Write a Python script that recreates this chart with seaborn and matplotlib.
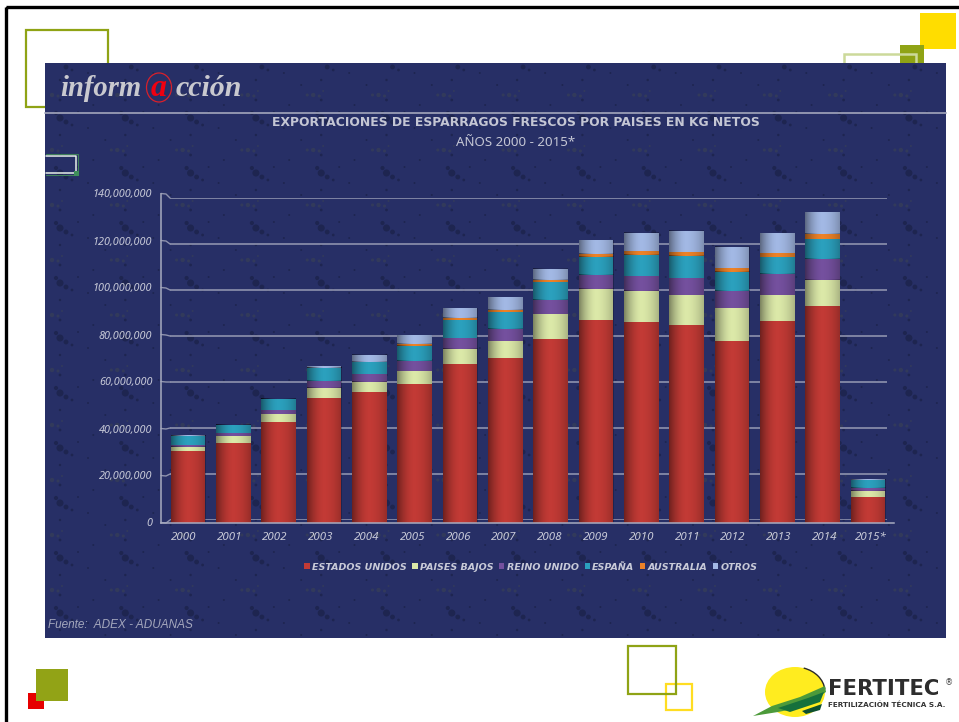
import matplotlib
matplotlib.use("Agg")
import matplotlib.pyplot as plt
import numpy as np
import pandas as pd
import seaborn as sns
from matplotlib.patches import Rectangle, Ellipse, Polygon, Arc

W, H = 959, 722

years = ["2000","2001","2002","2003","2004","2005","2006","2007","2008","2009","2010","2011","2012","2013","2014","2015*"]
estados_unidos = [30.3,33.8,42.9,52.8,55.5,58.8,67.6,69.9,78.1,86.0,85.2,84.2,77.2,85.9,92.0,10.7]
paises_bajos = [2.0,2.9,3.3,4.3,4.4,5.5,6.4,7.2,10.5,13.2,13.3,12.6,13.9,10.9,11.1,2.8]
reino_unido = [0.7,1.2,1.7,3.0,3.3,4.4,4.6,5.2,6.2,6.0,6.3,7.1,7.3,9.1,9.2,1.3]
espana = [3.9,3.4,4.6,5.6,4.9,6.5,7.4,7.1,7.4,7.7,9.0,9.6,8.3,7.1,8.2,3.3]
australia = [0.1,0.1,0.1,0.1,0.1,0.9,1.2,1.2,1.1,1.5,1.6,1.6,1.7,1.7,2.3,0.1]
otros = [0.1,0.1,0.1,0.6,3.2,3.5,4.1,5.2,4.7,5.7,7.7,9.1,9.0,8.5,9.3,0.3]

series_names = ["ESTADOS UNIDOS","PAISES BAJOS","REINO UNIDO","ESPAÑA","AUSTRALIA","OTROS"]
series_values = [estados_unidos,paises_bajos,reino_unido,espana,australia,otros]
series_colors = ["#c23a35","#dbe8a8","#74509e","#2ba0bd","#ec8228","#a2b8e4"]
y_ticks = [0,20,40,60,80,100,120,140]

sns.set_theme(style="white")
plt.rcParams["font.family"] = ["Noto Sans", "DejaVu Sans"]

fig = plt.figure(figsize=(W/100, H/100), dpi=100, facecolor="white")

def box(l, t, r, b):
    return [l/W, 1-b/H, (r-l)/W, (b-t)/H]

# ---------- decoration, in pixel coordinates ----------
deco = fig.add_axes([0,0,1,1], zorder=0)
deco.set_xlim(0,W); deco.set_ylim(H,0); deco.axis("off")
def rect(l,t,r,b,fc="none",ec="none",lw=0,z=1):
    deco.add_patch(Rectangle((l,t),r-l,b-t,fc=fc,ec=ec,lw=lw,zorder=z))
olive="#8fa315"
rect(5.5,6.5,W+5,H+5,ec="black",lw=2.4)
rect(25.5,29.5,108,106.5,ec=olive,lw=1.6)
rect(920,13,956,49,fc="#ffdd00")
rect(900,45,924,70,fc=olive)
rect(844,53.5,916,70,ec="#ccd99a",lw=1.8,z=2)
rect(28,693,44,709,fc="#e60000")
rect(36,669,68,701,fc="#92a316",z=2)
rect(628,645.5,676,693.5,ec=olive,lw=1.6,z=2)
rect(666,684,692,709.5,ec="#ffdd22",lw=1.6,z=1)
rect(45,63,946,638,fc="#272f66",z=3)

# panel texture: repeating tile of smudges
tile_dark = [(60,118,26),(56,113,9),(66,122,12),(72,125,4),(60,135,3),(60,100,4),(88,128,2),(28,105,2),(40,140,2),(78,112,2)]
tile_olive = [(52,150,10),(46,150,5),(58,151,5),(62,146,2)]
for ix in range(-1,14):
    for iy in range(-1,11):
        for spots,col in ((tile_dark,"#1b2249"),(tile_olive,"#363e58")):
            px=[s[0]+ix*65.3 for s in spots]; py=[s[1]+iy*55 for s in spots]; ss=[s[2] for s in spots]
            keep=[i for i in range(len(px)) if 46<px[i]<945 and 64<py[i]<637]
            deco.scatter([px[i] for i in keep],[py[i] for i in keep],s=[ss[i] for i in keep],
                         c=col,lw=0,alpha=.75,zorder=4)

deco.plot([45,946],[113,113],color="#9a9db5",lw=1.3,zorder=5)
deco.plot([46,76,76,46],[155.5,155.5,173,173],color="#e8f0e8",lw=1.1,zorder=5)
deco.plot([46,77.5,77.5,46],[153.5,153.5,174.5,174.5],color="#3f7f5a",lw=.8,zorder=5)
rect(73.5,170.5,78.5,175.5,fc="#3f8f5a",z=6)

deco.text(60,96,"inform",family="Liberation Serif",style="italic",weight="bold",fontsize=20.6,color="#c9c9cf",zorder=6)
deco.add_patch(Ellipse((159,87.5),25,29,fc="none",ec="#d8202a",lw=.9,zorder=6))
deco.text(159,96,"a",family="Liberation Serif",style="italic",weight="bold",fontsize=23,color="#f00010",ha="center",zorder=6)
deco.text(176,96,"cción",family="Liberation Serif",style="italic",weight="bold",fontsize=21.5,color="#c9c9cf",zorder=6)

txt="#c4c6d4"
deco.text(516,122,"EXPORTACIONES DE ESPARRAGOS FRESCOS POR PAISES EN KG NETOS",ha="center",va="center",
          fontsize=8.9,family="DejaVu Sans",weight="bold",color=txt,zorder=6)
deco.text(516,143,"AÑOS 2000 - 2015*",ha="center",va="center",fontsize=9.6,color=txt,zorder=6)
deco.text(48,625,"Fuente:  ADEX - ADUANAS",ha="left",va="center",fontsize=8.5,style="italic",
          family="Liberation Sans",color="#a4a7bd",zorder=6)

# slanted links from the axis to the back wall
for v in y_ticks:
    deco.plot([161,166,170],[522.5-2.35*v,522.5-2.35*v+.5,520-2.3*v],color="#8e92ad",lw=1.0,zorder=5)

# logo
deco.add_patch(Ellipse((795,692),60,50,fc="#ffec1f",ec="none",zorder=2))
deco.add_patch(Arc((795,692),60,50,theta1=-70,theta2=-5,color="#2b2b2b",lw=1,zorder=2))
deco.add_patch(Polygon([(753,716),(772,706),(800,697),(825,686),(826,692),(803,707),(778,712)],fc="#4c9a3a",ec="none",zorder=3))
deco.add_patch(Polygon([(778,708),(808,698),(824,692),(820,702),(790,712)],fc="#15703c",ec="none",zorder=4))
deco.add_patch(Polygon([(802,711),(822,704),(820,710),(806,714)],fc="#0d5030",ec="none",zorder=4))
deco.text(828,695,"FERTITEC",family="DejaVu Sans",weight="bold",fontsize=15.2,color="#2d2d2d",zorder=5)
deco.text(828,707,"FERTILIZACIÓN TÉCNICA S.A.",family="DejaVu Sans",weight="bold",fontsize=5.2,color="#333333",zorder=5)
deco.text(949,683,"®",family="DejaVu Sans",fontsize=6,color="#444444",ha="center",va="center",zorder=5)

# ---------- back wall: gridlines ----------
back = fig.add_axes(box(170,198,887,520), zorder=1)
back.patch.set_alpha(0)
back.set_xlim(0,1); back.set_ylim(0,140)
back.set_yticks(y_ticks); back.set_xticks([])
back.tick_params(left=False,labelleft=False)
back.grid(axis="y",color="#8e92ad",lw=1.2)
sns.despine(ax=back,left=True,bottom=True)

# ---------- bars ----------
ax = fig.add_axes(box(165.3,193.5,890.7,522.5), zorder=2)
ax.patch.set_alpha(0)
df = pd.DataFrame(dict(zip(series_names,series_values)))
df.insert(0,"year",years)
bottom = np.zeros(len(years))
for name,col in zip(series_names,series_colors):
    sns.barplot(data=df,x="year",y=name,color=col,bottom=bottom,width=.763,saturation=1,
                ax=ax,linewidth=0)
    bottom = bottom + df[name].to_numpy()
profile = np.linspace(-1,1,35)
shade = np.zeros((1,35,4))
shade[...,3] = np.where(profile<0,.42,.22)*np.abs(profile)**1.8
for c in ax.containers:
    for p in c.patches:
        x0,y0,w,h = p.get_x(),p.get_y(),p.get_width(),p.get_height()
        ax.imshow(shade,extent=(x0,x0+w,y0,y0+h),aspect="auto",zorder=3,interpolation="nearest")
ax.set_xlim(-.5,15.5); ax.set_ylim(0,140)
ax.axis("off")

# ---------- front plane: axis lines and labels ----------
front = fig.add_axes(box(160.7,193.5,893.5,522.5), zorder=3)
front.patch.set_alpha(0)
front.set_xlim(-.5,15.5); front.set_ylim(0,140)
front.set_xticks(range(len(years)),years)
front.set_xticks(np.arange(-.5,15.6,1),minor=True)
front.set_yticks(y_ticks,[f"{v*1000000:,}" for v in y_ticks])
lab="#c8cad8"
front.tick_params(axis="x",which="major",length=0,pad=7,labelsize=8.3,labelcolor=lab)
front.tick_params(axis="x",which="minor",length=3,width=.8,color="#a8abc0",direction="in")
front.tick_params(axis="y",length=4,width=.8,color="#a8abc0",pad=2,labelsize=7.8,labelcolor=lab)
for t in front.get_xticklabels()+front.get_yticklabels():
    t.set_fontstyle("italic")
for s in ("top","right"):
    front.spines[s].set_visible(False)
for s in ("left","bottom"):
    front.spines[s].set_color("#a8abc0"); front.spines[s].set_linewidth(1.1)
front.set_xlabel(""); front.set_ylabel("")

# legend
leg = fig.legend(ax.containers,series_names,loc="center",bbox_to_anchor=(531/W,1-567/H),ncol=6,frameon=False,
                 handlelength=.55,handleheight=.55,handletextpad=.25,columnspacing=.6,
                 prop=dict(family="DejaVu Sans",size=6.8,style="italic",weight="bold"),labelcolor=lab)

fig.savefig("out.png",dpi=100,facecolor="white")
